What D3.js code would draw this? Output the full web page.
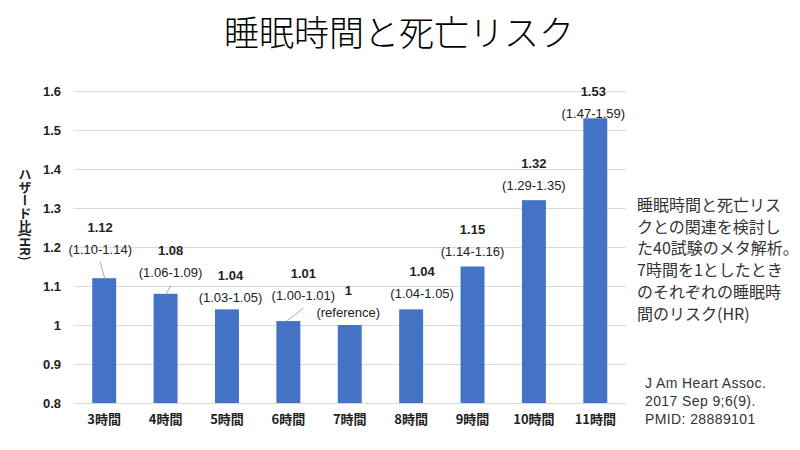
<!DOCTYPE html>
<html>
<head>
<meta charset="utf-8">
<script src="https://cdn.jsdelivr.net/npm/d3@7"></script>
<style>
  html, body { margin: 0; padding: 0; background: #fff; }
  svg { display: block; }
</style>
</head>
<body>
<svg id="chart" width="800" height="450"></svg>
<script>
// ---- data ----
const categories = ["3時間", "4時間", "5時間", "6時間", "7時間", "8時間", "9時間", "10時間", "11時間"];
const hazardRatios = [1.12, 1.08, 1.04, 1.01, 1.00, 1.04, 1.15, 1.32, 1.53];
const valueLabels = ["1.12", "1.08", "1.04", "1.01", "1", "1.04", "1.15", "1.32", "1.53"];
const ciLabels = ["(1.10-1.14)", "(1.06-1.09)", "(1.03-1.05)", "(1.00-1.01)", "(reference)", "(1.04-1.05)", "(1.14-1.16)", "(1.29-1.35)", "(1.47-1.59)"];
const yTicks = [0.8, 0.9, 1.0, 1.1, 1.2, 1.3, 1.4, 1.5, 1.6];
const titleText = "睡眠時間と死亡リスク";
const yAxisTitle = "ハザード比(HR)";
const noteLines = ["睡眠時間と死亡リス", "クとの関連を検討し", "た40試験のメタ解析。", "7時間を1としたとき", "のそれぞれの睡眠時", "間のリスク(HR)"];
const citeLines = ["J Am Heart Assoc.", "2017 Sep 9;6(9).", "PMID: 28889101"];

// ---- layout (label placement relative to bar top, manually moved labels) ----
const labelShift = [[-4, -29], [5, -21], [3.5, -12], [15, -26], [-1.5, -13], [11, -15.5], [0, -15], [0, -15], [-2, -5]];
const hasLeader = [true, true, false, true, false, false, false, false, false];

const svg = d3.select("#chart");
const latin = "'Liberation Sans', Arial, 'Noto Sans CJK JP', sans-serif";
const cjk = "'Noto Sans CJK JP', 'Liberation Sans', sans-serif";

const x = d3.scaleBand().domain(categories).range([73.5, 626]).paddingInner(0.61).paddingOuter(0.305);
const y = d3.scaleLinear().domain([0.8, 1.6]).range([403, 91]);

// title
svg.append("text")
  .attr("x", 399).attr("y", 46)
  .attr("text-anchor", "middle")
  .attr("font-family", cjk)
  .attr("font-size", 35)
  .attr("font-weight", 300)
  .attr("fill", "#000")
  .text(titleText);

// gridlines
svg.append("g").selectAll("line").data(yTicks).join("line")
  .attr("x1", 73.5).attr("x2", 626)
  .attr("y1", d => Math.round(y(d)) + 0.5).attr("y2", d => Math.round(y(d)) + 0.5)
  .attr("stroke", "#d9d9d9").attr("stroke-width", 1);

// y axis labels
const yAxis = d3.axisLeft(y).tickValues(yTicks).tickFormat(d3.format("~g")).tickSize(0).tickPadding(0);
const gy = svg.append("g").attr("transform", "translate(61,0)").call(yAxis);
gy.select(".domain").remove();
gy.selectAll("text")
  .attr("font-family", latin).attr("font-size", 13).attr("font-weight", "bold").attr("fill", "#222");

// y axis title (vertical writing)
svg.append("text")
  .attr("x", 25).attr("y", 214)
  .attr("text-anchor", "middle")
  .style("writing-mode", "vertical-rl")
  .style("text-orientation", "mixed")
  .attr("font-family", cjk)
  .attr("font-size", 13)
  .attr("font-weight", "bold")
  .attr("fill", "#222")
  .text(yAxisTitle);

// bars
svg.append("g").selectAll("rect").data(hazardRatios).join("rect")
  .attr("x", (d, i) => x(categories[i]))
  .attr("width", x.bandwidth())
  .attr("y", d => y(d))
  .attr("height", d => y(0.8) - y(d))
  .attr("fill", "#4472c4");

// x axis labels
const xAxis = d3.axisBottom(x).tickSize(0).tickPadding(0);
const gx = svg.append("g").attr("transform", "translate(0,415)").call(xAxis);
gx.select(".domain").remove();
gx.selectAll("text")
  .attr("font-family", cjk).attr("font-size", 13).attr("font-weight", "bold").attr("fill", "#222");

// leader lines
svg.append("g").selectAll("line").data(hazardRatios.map((v, i) => i).filter(i => hasLeader[i])).join("line")
  .attr("x1", i => x(categories[i]) + x.bandwidth() / 2 + labelShift[i][0])
  .attr("y1", i => y(hazardRatios[i]) + labelShift[i][1] + 13)
  .attr("x2", i => x(categories[i]) + x.bandwidth() / 2 + (i === 3 ? -1.5 : 0.5))
  .attr("y2", i => y(hazardRatios[i]))
  .attr("stroke", "#a6a6a6").attr("stroke-width", 1);

// data labels
const lab = svg.append("g");
hazardRatios.forEach((v, i) => {
  const cx = x(categories[i]) + x.bandwidth() / 2 + labelShift[i][0];
  const cy = y(v) + labelShift[i][1];
  lab.append("text")
    .attr("x", cx).attr("y", cy - 22).attr("dy", "0.35em")
    .attr("text-anchor", "middle")
    .attr("font-family", latin).attr("font-size", 13).attr("font-weight", "bold").attr("fill", "#222")
    .text(valueLabels[i]);
  lab.append("text")
    .attr("x", cx).attr("y", cy).attr("dy", "0.35em")
    .attr("text-anchor", "middle")
    .attr("font-family", latin).attr("font-size", 13).attr("fill", "#222")
    .text(ciLabels[i]);
});

// note text
svg.append("g").selectAll("text").data(noteLines).join("text")
  .attr("x", 637).attr("y", (d, i) => 211 + i * 21.7)
  .attr("font-family", cjk).attr("font-size", 16).attr("fill", "#333")
  .text(d => d);

// citation
svg.append("g").selectAll("text").data(citeLines).join("text")
  .attr("x", 645).attr("y", (d, i) => 388 + i * 18)
  .attr("font-family", latin).attr("font-size", 14).attr("fill", "#333")
  .attr("letter-spacing", 0.4)
  .text(d => d);
</script>
</body>
</html>
